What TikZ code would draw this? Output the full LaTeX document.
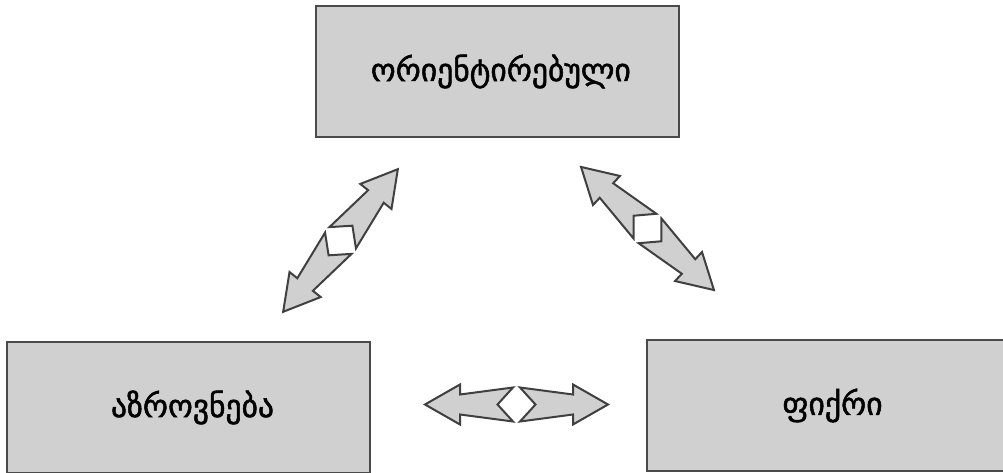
\documentclass[tikz,border=0pt]{standalone}
\usepackage{fontspec}
\newfontfamily\geofont[FakeBold=1.6]{DejaVu Sans}
\definecolor{boxline}{HTML}{4A4A4A}
\definecolor{arrowline}{HTML}{404040}
\definecolor{boxfill}{HTML}{D0D0D0}
\newcommand{\boxWidth}[0]{272.25pt}
\newcommand{\boxHeight}[0]{98.25pt}

\begin{document}
\begin{tikzpicture}[x=0.75pt, y=0.75pt]
  \tikzset{conceptbox/.style={draw=boxline, fill=boxfill, line width=1.8pt,
      minimum width=\boxWidth, minimum height=\boxHeight, inner sep=0pt,
      font=\geofont\fontsize{23.7}{29}\selectfont},
    arrowpart/.style={draw=arrowline, fill=boxfill, line width=1.5pt, line join=miter},
    twinarrow/.pic={
      \foreach \s in {1,-1}
        \draw[arrowpart, xscale=\s] (3.5,17) -- (56.5,10) -- (56.5,20) -- (91.5,0)
          -- (56.5,-20) -- (56.5,-10) -- (3.5,-17) -- (19,0) -- cycle;
    }}
  \useasboundingbox (0,0) rectangle (1003,472);
  \clip (0,0) rectangle (1003,472);
  \node[conceptbox] (orient) at (497.5,400.5) {\hspace*{5pt}ორიენტირებული};
  \node[conceptbox] (think) at (188.5,64.5) {\hspace*{6pt}აზროვნება};
  \node[conceptbox] (thought) at (828.5,66.5) {\hspace*{6pt}ფიქრი};
  % double arrows between the boxes
  \pic[rotate=51.2] (left-arrows) at (340.5,231.5) {twinarrow};
  \pic[rotate=-42.8, scale=0.99] (right-arrows) at (647.5,243.5) {twinarrow};
  \pic (bottom-arrows) at (516.5,67.5) {twinarrow};
\end{tikzpicture}
\end{document}
